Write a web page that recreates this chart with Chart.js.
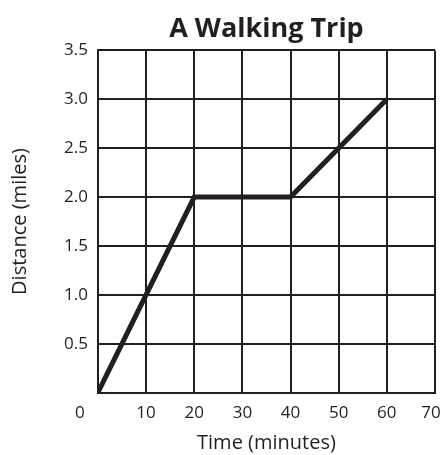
<!DOCTYPE html>
<html>
<head>
<meta charset="utf-8">
<script src="https://cdn.jsdelivr.net/npm/chart.js@4/dist/chart.umd.min.js"></script>
<style>
  html, body { margin: 0; padding: 0; background: #fff; }
</style>
</head>
<body>
<canvas id="chart" width="444" height="455"></canvas>
<script>
const timeMinutes = [0, 20, 40, 60];
const distanceMiles = [0, 2, 2, 3];
const xTicks = [0, 10, 20, 30, 40, 50, 60, 70];
const yTicks = [0, 0.5, 1.0, 1.5, 2.0, 2.5, 3.0, 3.5];

const font = '"Open Sans", "Noto Sans", sans-serif';
const ink = '#231f20';

// first and last x labels are nudged off their gridlines in the original
const edgeLabels = {
    id: 'edgeLabels',
    afterDraw(chart) {
        const ctx = chart.ctx;
        const xs = chart.scales.x;
        const y = chart.chartArea.bottom + 21;
        const first = xTicks[0];
        const last = xTicks[xTicks.length - 1];
        ctx.save();
        ctx.font = '17px ' + font;
        ctx.fillStyle = ink;
        ctx.textAlign = 'center';
        ctx.textBaseline = 'middle';
        ctx.fillText(String(first), xs.getPixelForValue(first) - 18, y);
        ctx.fillText(String(last), xs.getPixelForValue(last) - 4, y);
        ctx.restore();
    }
};

new Chart(document.getElementById('chart'), {
    type: 'line',
    data: {
        datasets: [{
            data: timeMinutes.map((t, i) => ({ x: t, y: distanceMiles[i] })),
            borderColor: ink,
            borderWidth: 5,
            pointRadius: 0,
            tension: 0,
            borderCapStyle: 'butt'
        }]
    },
    options: {
        responsive: false,
        animation: false,
        layout: { padding: { top: 13, right: 9, bottom: 0, left: 8 } },
        plugins: {
            legend: { display: false },
            tooltip: { enabled: false },
            title: {
                display: true,
                text: 'A Walking Trip',
                fullSize: false,
                color: ink,
                font: { family: font, size: 27, weight: 'bold' },
                padding: { top: 0, bottom: 5 }
            }
        },
        scales: {
            x: {
                type: 'linear',
                min: 0,
                max: 70,
                afterBuildTicks: axis => { axis.ticks = xTicks.map(v => ({ value: v })); },
                afterFit: axis => { axis.paddingRight = 0; },
                ticks: {
                    color: ink,
                    font: { family: font, size: 17 },
                    padding: 10,
                    maxRotation: 0,
                    callback: v => (v === xTicks[0] || v === xTicks[xTicks.length - 1]) ? '' : String(v)
                },
                grid: { color: ink, lineWidth: 2, drawTicks: false },
                border: { color: ink, width: 2 },
                title: {
                    display: true,
                    text: 'Time (minutes)',
                    color: ink,
                    font: { family: font, size: 20 },
                    padding: { top: -2, bottom: 0 }
                }
            },
            y: {
                min: 0,
                max: 3.5,
                afterBuildTicks: axis => { axis.ticks = yTicks.map(v => ({ value: v })); },
                ticks: {
                    color: ink,
                    font: { family: font, size: 17 },
                    padding: 10,
                    callback: v => v === 0 ? '' : v.toFixed(1)
                },
                grid: { color: ink, lineWidth: 2, drawTicks: false },
                border: { color: ink, width: 2 },
                title: {
                    display: true,
                    text: 'Distance (miles)',
                    color: ink,
                    font: { family: font, size: 20 },
                    padding: { top: 0, bottom: 22 }
                }
            }
        }
    },
    plugins: [edgeLabels]
});
</script>
</body>
</html>
